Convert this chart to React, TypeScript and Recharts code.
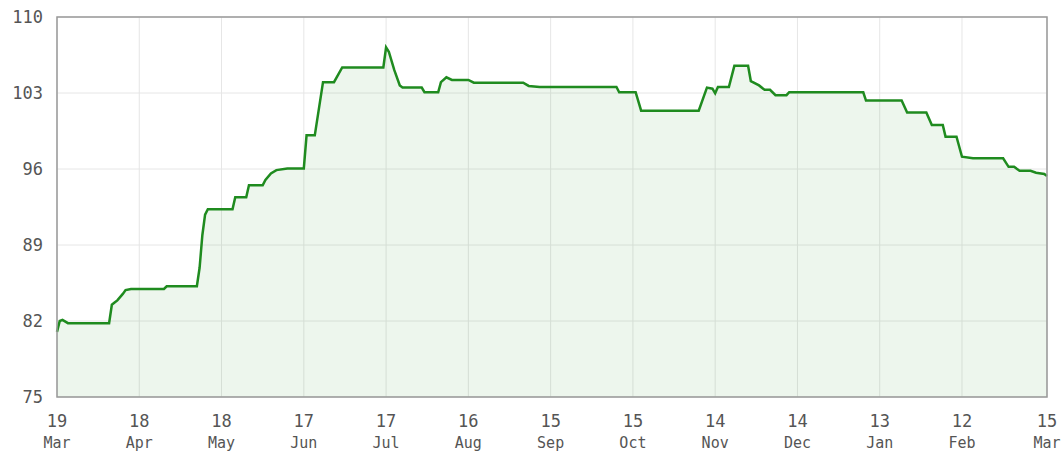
import { AreaChart, Area, XAxis, YAxis, CartesianGrid, ReferenceArea } from 'recharts';

// days since 19 Mar, and the price on that day
const days = [
  0, 1, 2, 4, 19, 20, 21, 22, 24, 25, 27, 39, 40, 51, 52, 53, 54, 55,
  64, 65, 69, 70, 75, 76, 78, 80, 84, 90, 91, 94, 97, 101, 104, 119,
  120, 121, 123, 125, 126, 133, 134, 139, 140, 142, 144, 150, 152, 170,
  172, 176, 204, 205, 211, 213, 234, 237, 239, 240, 241, 245, 247, 252,
  253, 256, 258, 260, 262, 266, 267, 294, 295, 308, 310, 317, 319, 323,
  324, 328, 330, 334, 345, 347, 349, 351, 355, 357, 360, 361,
];
const prices = [
  81.0, 82.0, 82.1, 81.8, 81.8, 83.5, 83.7, 83.9, 84.5, 84.85, 84.95, 84.95, 85.2, 85.2, 86.9, 89.9, 91.8, 92.3,
  92.3, 93.4, 93.4, 94.5, 94.5, 95.0, 95.6, 95.9, 96.05, 96.05, 99.1, 99.1, 104.0, 104.0, 105.35, 105.35,
  107.2, 106.8, 105.1, 103.7, 103.5, 103.5, 103.07, 103.07, 104.0, 104.45, 104.2, 104.2, 103.95, 103.95,
  103.65, 103.55, 103.55, 103.07, 103.07, 101.37, 101.37, 103.5, 103.4, 102.97, 103.55, 103.55, 105.5, 105.5,
  104.1, 103.7, 103.3, 103.3, 102.8, 102.8, 103.07, 103.07, 102.3, 102.3, 101.2, 101.2, 100.05, 100.05,
  98.98, 98.98, 97.13, 96.98, 96.98, 96.2, 96.2, 95.84, 95.84, 95.66, 95.54, 95.35,
];

const tickPositions = [0, 30, 60, 90, 120, 150, 180, 210, 240, 270, 300, 330, 361];
const tickDays = ['19', '18', '18', '17', '17', '16', '15', '15', '14', '14', '13', '12', '15'];
const tickMonths = ['Mar', 'Apr', 'May', 'Jun', 'Jul', 'Aug', 'Sep', 'Oct', 'Nov', 'Dec', 'Jan', 'Feb', 'Mar'];
const yTicks = [75, 82, 89, 96, 103, 110];

const data = days.map((d, i) => ({ day: d, price: prices[i] }));

const FONT = '"DejaVu Sans Mono", monospace';

function DateTick(props: any) {
  const { x, y, payload } = props;
  const i = tickPositions.indexOf(payload.value);
  return (
    <g transform={`translate(${x},${y})`}>
      <text x={0} y={22} textAnchor="middle" fill="#555" fontSize={17} fontFamily={FONT}>
        {tickDays[i]}
      </text>
      <text x={0} y={43} textAnchor="middle" fill="#555" fontSize={15} fontFamily={FONT}>
        {tickMonths[i]}
      </text>
    </g>
  );
}

export default function App() {
  return (
    <div style={{ position: 'absolute', left: 0, top: 0, background: '#fff' }}>
      <AreaChart
        width={1062}
        height={455}
        data={data}
        margin={{ top: 17, right: 15, bottom: 8, left: 0 }}
      >
        <CartesianGrid stroke="#e6e6e6" strokeWidth={1} />
        <XAxis
          dataKey="day"
          type="number"
          domain={[0, 361]}
          ticks={tickPositions}
          tick={<DateTick />}
          tickLine={false}
          axisLine={false}
          height={50}
          interval={0}
        />
        <YAxis
          type="number"
          domain={[75, 110]}
          ticks={yTicks}
          width={57}
          tickLine={false}
          axisLine={false}
          tickMargin={8}
          interval={0}
          tick={{ fill: '#555', fontSize: 17, fontFamily: FONT }}
        />
        <Area
          type="linear"
          dataKey="price"
          stroke="#1f8b1f"
          strokeWidth={2.5}
          fill="#1f8b1f"
          fillOpacity={0.08}
          dot={false}
          activeDot={false}
          isAnimationActive={false}
        />
        <ReferenceArea x1={0} x2={361} y1={75} y2={110} fill="none" stroke="#999" strokeWidth={1.5} />
      </AreaChart>
    </div>
  );
}
